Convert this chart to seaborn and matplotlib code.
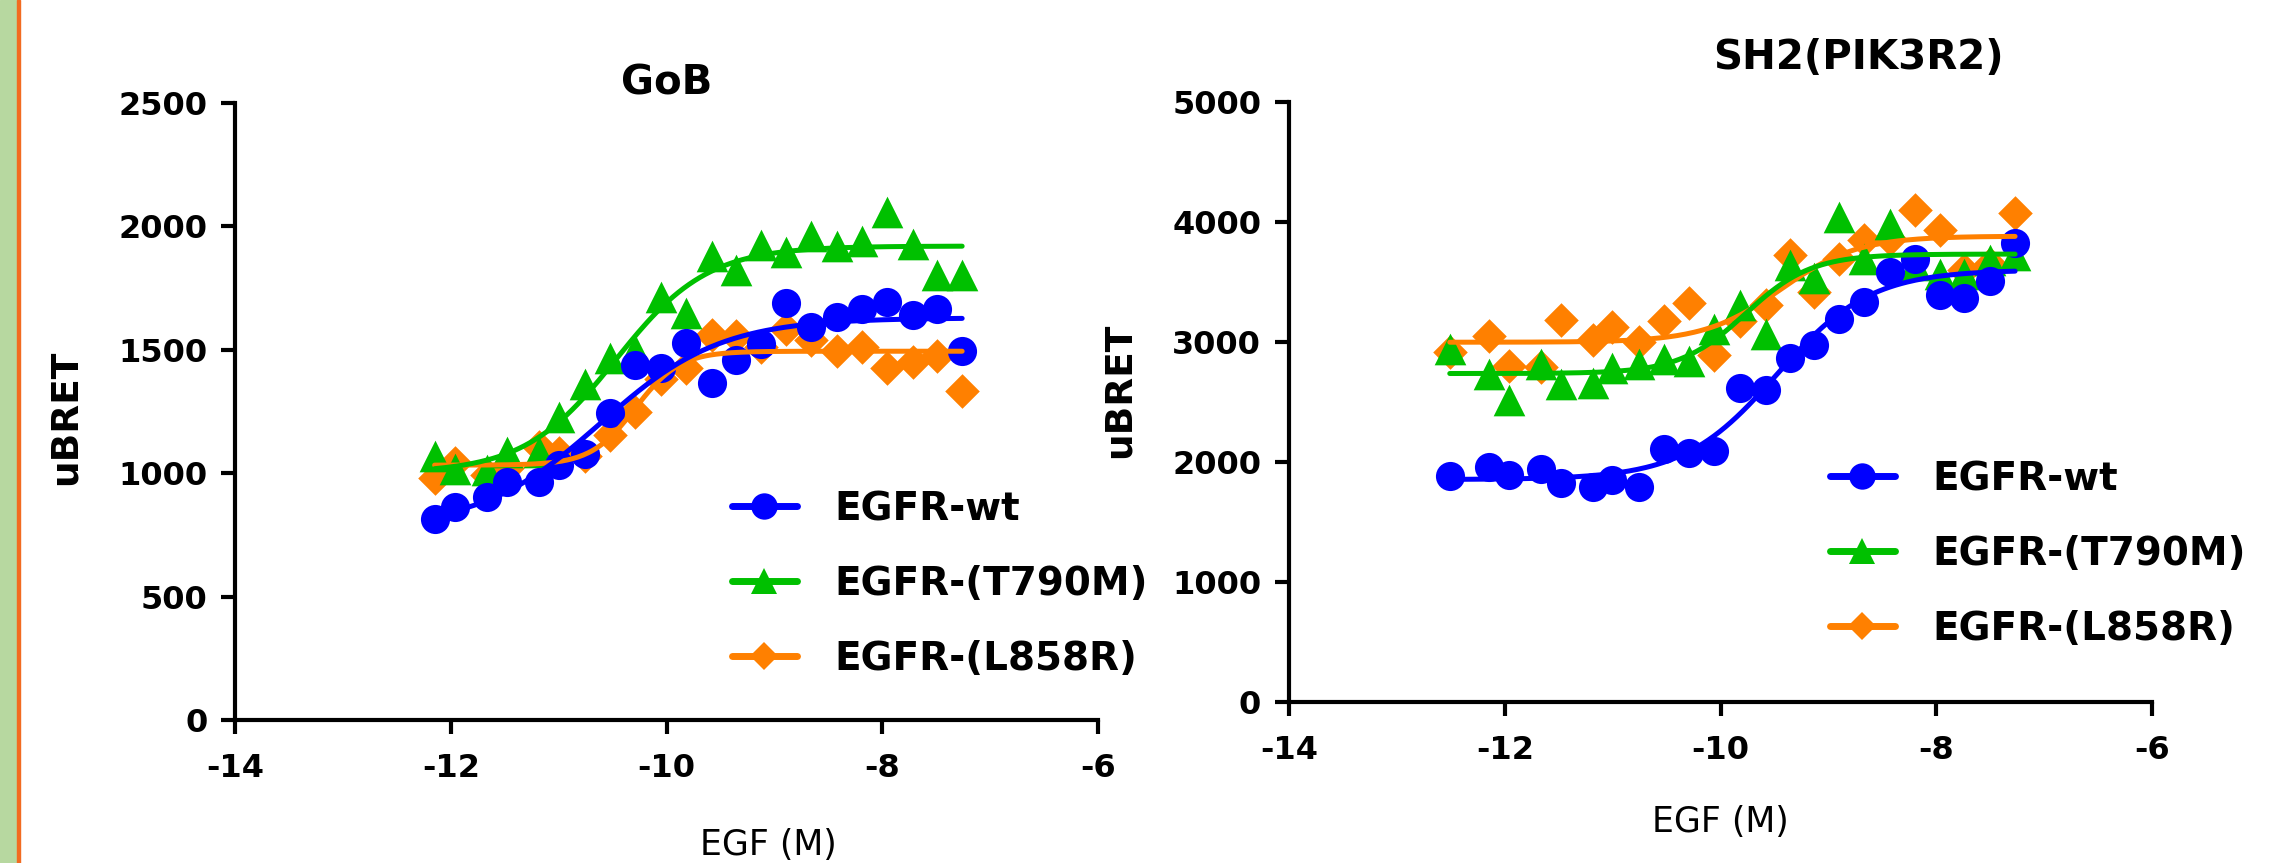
import numpy as np
import pandas as pd
import matplotlib
matplotlib.use("Agg")
import matplotlib.pyplot as plt
import seaborn as sns
from matplotlib.lines import Line2D
from matplotlib.patches import Rectangle

# ==============================
# Data
# ==============================
receptors = ["EGFR-wt", "EGFR-(T790M)", "EGFR-(L858R)"]

# log [EGF] (M)
x_gob = [-12.15, -11.96, -11.66, -11.48, -11.18, -11.00, -10.76, -10.52, -10.29, -10.05, -9.82,
         -9.58, -9.36, -9.12, -8.89, -8.66, -8.42, -8.19, -7.96, -7.72, -7.49, -7.26]
gob_wt = [813, 862, 903, 966, 966, 1034, 1078, 1246, 1439, 1428, 1529,
          1367, 1459, 1523, 1689, 1592, 1635, 1665, 1693, 1642, 1665, 1497]
gob_t790m = [1070, 1016, 1013, 1084, 1088, 1227, 1362, 1466, 1500, 1713, 1649,
             1881, 1824, 1925, 1898, 1962, 1919, 1939, 2060, 1928, 1804, 1804]
gob_l858r = [982, 1043, 993, 1020, 1108, 1081, 1070, 1155, 1250, 1381, 1426,
             1561, 1557, 1510, 1584, 1541, 1497, 1511, 1426, 1449, 1477, 1335]

x_sh2 = [-12.51, -12.15, -11.96, -11.66, -11.48, -11.18, -11.01, -10.76, -10.52, -10.29, -10.06, -9.82,
         -9.58, -9.36, -9.13, -8.90, -8.67, -8.43, -8.20, -7.97, -7.74, -7.50, -7.27]
sh2_wt = [1881, 1958, 1889, 1945, 1825, 1792, 1848, 1792, 2106, 2075, 2089, 2617,
          2603, 2867, 2972, 3189, 3333, 3583, 3689, 3394, 3369, 3506, 3825]
sh2_t790m = [2945, 2731, 2520, 2814, 2653, 2658, 2783, 2820, 2856, 2839, 3111, 3306,
             3064, 3639, 3536, 4042, 3694, 3986, 3639, 3569, 3569, 3681, 3722]
sh2_l858r = [2917, 3050, 2797, 2792, 3186, 3019, 3125, 3000, 3172, 3325, 2895, 3172,
             3306, 3722, 3417, 3694, 3853, 3861, 4097, 3936, 3597, 3653, 4075]

x_ticks = [-14, -12, -10, -8, -6]

colors = {"EGFR-wt": "#0000FF", "EGFR-(T790M)": "#00C000", "EGFR-(L858R)": "#FF8000"}
markers = {"EGFR-wt": "o", "EGFR-(T790M)": "^", "EGFR-(L858R)": "D"}
msize = {"EGFR-wt": 440, "EGFR-(T790M)": 520, "EGFR-(L858R)": 310}


# ==============================
# 4PL fit (log(agonist) vs response, variable slope)
# ==============================
def fit_4pl(x, y):
    x = np.asarray(x, float)
    y = np.asarray(y, float)
    ec = np.arange(-12.5, -8.0, 0.01)
    hill = np.arange(0.3, 3.0, 0.02)
    E, H = np.meshgrid(ec, hill, indexing="ij")
    s = 1.0 / (1.0 + 10 ** ((E[..., None] - x) * H[..., None]))
    sm = s.mean(-1, keepdims=True)
    ym = y.mean()
    d = ((s - sm) * (y - ym)).sum(-1) / ((s - sm) ** 2).sum(-1)
    b = ym - d * sm[..., 0]
    sse = ((b[..., None] + d[..., None] * s - y) ** 2).sum(-1)
    i, j = np.unravel_index(np.argmin(sse), sse.shape)
    return b[i, j], b[i, j] + d[i, j], ec[i], hill[j]


def curve(x, y):
    bottom, top, logec50, h = fit_4pl(x, y)
    xs = np.linspace(min(x), max(x), 200)
    ys = bottom + (top - bottom) / (1 + 10 ** ((logec50 - xs) * h))
    return pd.DataFrame({"logEGF": xs, "uBRET": ys})


# ==============================
# Figure
# ==============================
sns.set_style("ticks")
plt.rcParams["font.family"] = ["DejaVu Sans"]
plt.rcParams["axes.unicode_minus"] = False
plt.rcParams["text.color"] = "black"
plt.rcParams["axes.labelcolor"] = "black"
plt.rcParams["xtick.color"] = "black"
plt.rcParams["ytick.color"] = "black"
plt.rcParams["axes.edgecolor"] = "black"

fig = plt.figure(figsize=(22.73, 8.63), dpi=100)
fig.patches.append(Rectangle((0, 0), 17 / 2273, 1, transform=fig.transFigure,
                             color="#B7D8A0", zorder=-1))
fig.patches.append(Rectangle((17 / 2273, 0), 3 / 2273, 1, transform=fig.transFigure,
                             color="#F26B21", zorder=-1))

ax1 = fig.add_axes([0.1034, 0.1657, 0.3797, 0.7149])
ax2 = fig.add_axes([0.5671, 0.1866, 0.3797, 0.6952])

panels = [
    (ax1, x_gob, [gob_wt, gob_t790m, gob_l858r], 2500, 500),
    (ax2, x_sh2, [sh2_wt, sh2_t790m, sh2_l858r], 5000, 1000),
]

for ax, xs, series, ymax, ystep in panels:
    # draw orange, green, then blue on top
    for name, ys in list(zip(receptors, series))[::-1]:
        pts = pd.DataFrame({"logEGF": xs, "uBRET": ys})
        sns.lineplot(data=curve(xs, ys), x="logEGF", y="uBRET", color=colors[name],
                     linewidth=3.6, ax=ax)
        sns.scatterplot(data=pts, x="logEGF", y="uBRET", color=colors[name],
                        marker=markers[name], s=msize[name], linewidth=0, ax=ax)

    ax.set_xlim(-14, -6)
    ax.set_ylim(0, ymax)
    ax.set_xticks(x_ticks)
    ax.set_yticks(np.arange(0, ymax + 1, ystep))
    sns.despine(ax=ax)
    for sp in ["left", "bottom"]:
        ax.spines[sp].set_linewidth(3)
        ax.spines[sp].set_color("black")
    ax.tick_params(width=3, length=10, labelsize=23, colors="black")
    ax.tick_params(axis="x", pad=14)
    ax.tick_params(axis="y", pad=10)
    for lab in ax.get_xticklabels() + ax.get_yticklabels():
        lab.set_fontweight("bold")

    ax.set_xlabel("EGF (M)", fontsize=25)
    ax.set_ylabel("uBRET", fontsize=27, fontweight="bold")

    handles = [Line2D([], [], color=colors[n], marker=markers[n], linewidth=5,
                      markersize=19 if n != "EGFR-(L858R)" else 14, markeredgewidth=0)
               for n in receptors]
    ax.legend(handles, receptors, frameon=False, loc="center left",
              prop={"weight": "bold", "size": 28}, handlelength=1.67,
              handletextpad=0.95, labelspacing=0.95, borderpad=0, borderaxespad=0,
              bbox_transform=fig.transFigure,
              bbox_to_anchor=(732 / 2273, 1 - 584 / 863) if ax is ax1 else (1830 / 2273, 1 - 554 / 863))

ax1.set_title("GoB", fontsize=29, fontweight="bold", y=1.032, pad=0, va="center")
ax2.set_title("SH2(PIK3R2)", fontsize=29, fontweight="bold", x=0.66, y=1.073, pad=0, va="center")

ax1.xaxis.set_label_coords(0.618, -0.175)
ax2.xaxis.set_label_coords(0.5, -0.172)
ax1.yaxis.set_label_coords(-0.175, 0.49)
ax2.yaxis.set_label_coords(-0.175, 0.52)

plt.savefig("out.png", dpi=100)
